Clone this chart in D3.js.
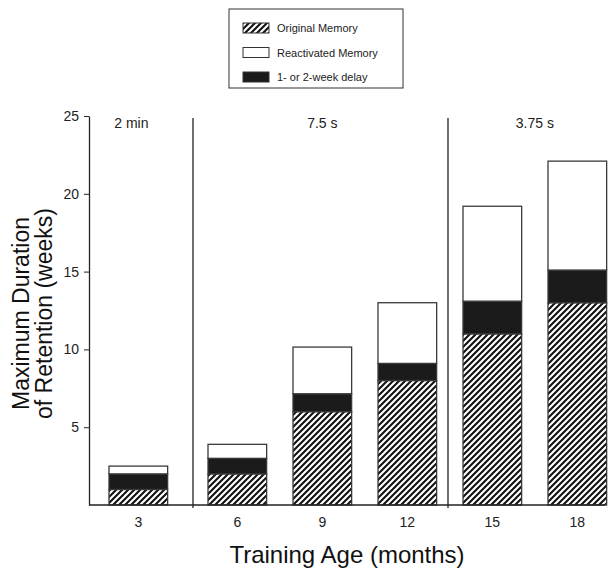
<!DOCTYPE html>
<html>
<head>
<meta charset="utf-8">
<script src="https://cdn.jsdelivr.net/npm/d3@7.9.0/dist/d3.min.js"></script>
<style>
  html, body { margin: 0; padding: 0; background: #fff; }
  svg { display: block; font-family: "Liberation Sans", Arial, sans-serif; }
</style>
</head>
<body>
<div id="chart"></div>
<script>
// ---------- data ----------
const ages = ['3', '6', '9', '12', '15', '18'];
const original = [1, 2, 6, 8, 11, 13];
const delay = [1, 1, 1.15, 1.1, 2.1, 2.1];
const reactivated = [0.5, 0.9, 3, 3.9, 6.1, 7];

const groupLabels = ['2 min', '7.5 s', '3.75 s'];
const groupAges = [['3'], ['6', '9', '12'], ['15', '18']];

const seriesKeys = ['original', 'delay', 'reactivated'];
const seriesNames = ['Original Memory', 'Reactivated Memory', '1- or 2-week delay'];
const yTicks = [5, 10, 15, 20, 25];

const width = 608, height = 573;
const margin = { top: 116, right: 3, bottom: 68, left: 89 };

const svg = d3.select('#chart').append('svg')
  .attr('width', width)
  .attr('height', height);

// hatch pattern for the original memory
const defs = svg.append('defs');
defs.append('pattern')
  .attr('id', 'hatch')
  .attr('patternUnits', 'userSpaceOnUse')
  .attr('width', 6).attr('height', 6)
  .call(p => p.append('rect').attr('width', 6).attr('height', 6).attr('fill', '#fff'))
  .append('path')
  .attr('d', 'M-1,1 l2,-2 M0,6 l6,-6 M5,7 l2,-2')
  .attr('stroke', '#111')
  .attr('stroke-width', 2.1);

const fills = { original: 'url(#hatch)', delay: '#1b1b1b', reactivated: '#fff' };

/* ---------- scales ---------- */
const y = d3.scaleLinear()
  .domain([0, 25])
  .range([height - margin.bottom, margin.top]);

const band = d3.scaleBand()
  .domain(ages)
  .range([123 - 85 * 0.155, 123 - 85 * 0.155 + 85 * 6])
  .paddingInner(0.31)
  .paddingOuter(0.155);

// first group sits a little further left than the regular step
const x = a => band(a) + (a === groupAges[0][0] ? -14 : 0);

/* ---------- stacked bars ---------- */
const rows = ages.map((a, i) => ({
  age: a, original: original[i], delay: delay[i], reactivated: reactivated[i]
}));
const stacked = d3.stack().keys(seriesKeys)(rows);

const bars = svg.append('g');
stacked.forEach(layer => {
  bars.append('g')
    .selectAll('rect')
    .data(layer)
    .join('rect')
    .attr('x', d => x(d.data.age))
    .attr('width', band.bandwidth())
    .attr('y', d => y(d[1]))
    .attr('height', d => y(d[0]) - y(d[1]))
    .attr('fill', fills[layer.key])
    .attr('stroke', '#3a3a3a')
    .attr('stroke-width', 1.3);
});

/* ---------- axes ---------- */
const y0 = y(0);
const xLeft = margin.left, xRight = width - margin.right;

const yAxis = svg.append('g')
  .attr('transform', `translate(${xLeft},0)`)
  .call(d3.axisLeft(y).tickValues(yTicks).tickSize(5).tickPadding(5).tickSizeOuter(0));
yAxis.select('.domain').attr('stroke', '#222').attr('stroke-width', 1.3);
yAxis.selectAll('.tick line').attr('stroke', '#222');
yAxis.selectAll('text').attr('font-size', 14).attr('fill', '#222')
  .attr('font-family', '"Liberation Sans", Arial, sans-serif');

svg.append('line')
  .attr('x1', xLeft).attr('x2', xRight)
  .attr('y1', y0).attr('y2', y0)
  .attr('stroke', '#222').attr('stroke-width', 1.3);

svg.append('g')
  .selectAll('text')
  .data(ages)
  .join('text')
  .attr('x', d => x(d) + band.bandwidth() / 2)
  .attr('y', y0 + 22)
  .attr('text-anchor', 'middle')
  .attr('font-size', 14)
  .attr('fill', '#222')
  .text(d => d);

/* ---------- group dividers & labels ---------- */
const dividers = groupAges.slice(1).map(g => x(g[0]) - 15);
svg.append('g')
  .selectAll('line')
  .data(dividers)
  .join('line')
  .attr('x1', d => d).attr('x2', d => d)
  .attr('y1', y(25) + 2).attr('y2', y0 + 3)
  .attr('stroke', '#222').attr('stroke-width', 1.3);

svg.append('g')
  .selectAll('text')
  .data(groupAges)
  .join('text')
  .attr('x', g => (x(g[0]) + x(g[g.length - 1]) + band.bandwidth()) / 2 - (g.length === 1 ? 7 : 0))
  .attr('y', y(25) + 12)
  .attr('text-anchor', 'middle')
  .attr('font-size', 14)
  .attr('fill', '#222')
  .text((g, i) => groupLabels[i]);

/* ---------- axis titles ---------- */
svg.append('text')
  .attr('x', (xLeft + xRight) / 2)
  .attr('y', 563)
  .attr('text-anchor', 'middle')
  .attr('font-size', 24)
  .attr('fill', '#111')
  .text('Training Age (months)');

const yTitle = svg.append('text')
  .attr('transform', `translate(0,${(y0 + y(25)) / 2 + 3}) rotate(-90)`)
  .attr('text-anchor', 'middle')
  .attr('font-size', 23)
  .attr('fill', '#111');
yTitle.append('tspan').attr('x', 0).attr('y', 29).text('Maximum Duration');
yTitle.append('tspan').attr('x', 0).attr('y', 52).text('of Retention (weeks)');

/* ---------- legend ---------- */
const legend = svg.append('g').attr('transform', 'translate(229,9)');
legend.append('rect')
  .attr('width', 174).attr('height', 79)
  .attr('fill', '#fff').attr('stroke', '#333').attr('stroke-width', 1);

const legendFills = [fills.original, fills.reactivated, fills.delay];
const item = legend.selectAll('g.item')
  .data(seriesNames)
  .join('g')
  .attr('class', 'item')
  .attr('transform', (d, i) => `translate(14,${14 + i * 24.5})`);
item.append('rect')
  .attr('width', 26).attr('height', 10)
  .attr('fill', (d, i) => legendFills[i])
  .attr('stroke', '#333').attr('stroke-width', 1);
item.append('text')
  .attr('x', 34).attr('y', 9)
  .attr('font-size', 11)
  .attr('fill', '#222')
  .text(d => d);
</script>
</body>
</html>
